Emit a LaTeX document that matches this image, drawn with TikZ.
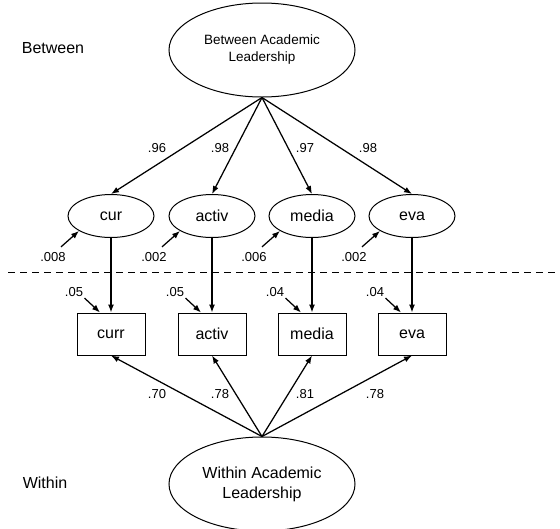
\documentclass[tikz,border=0pt]{standalone}
\usepackage{fontspec}
\setmainfont{Liberation Sans}
\usetikzlibrary{positioning}
\usetikzlibrary{calc}
\usetikzlibrary{arrows.meta}
\usetikzlibrary{shapes.geometric}

\begin{document}
\begin{tikzpicture}[x=1pt, y=-1pt, >={Latex[length=8pt,width=6pt]}, line width=1pt]
    \useasboundingbox (0,0) rectangle (560,528);
    \tikzset{
        latent/.style={draw, ellipse, inner sep=0pt, minimum width=86pt, minimum height=43pt, font=\fontsize{16}{18}\selectfont},
        observed/.style={draw, rectangle, inner sep=0pt, minimum width=68pt, minimum height=42pt, font=\fontsize{16}{18}\selectfont},
        factor/.style={draw, ellipse, inner sep=0pt, minimum width=186pt, minimum height=94pt, align=center},
        coef/.style={font=\fontsize{13}{15}\selectfont, inner sep=1pt},
        level/.style={font=\fontsize{16}{18}\selectfont},
        path/.style={->, line width=1.25pt}
    }

    \node[level] (betweenlab) at (53,48) {Between};
    \node[level] (withinlab) at (45,483) {Within};

    \node[factor, font=\fontsize{13.5}{17}\selectfont] (bal) at (262,50) {Between Academic\\Leadership};
    \node[factor, font=\fontsize{16}{20}\selectfont] (wal) at (262,484) {Within Academic\\Leadership};

    % Level divider
    \coordinate (divl) at (8,272);
    \coordinate (divr) at (560,272);
    \draw[dash pattern=on 7pt off 5pt] (divl) -- (divr);

    \foreach \i/\x/\nb/\nw/\lb/\lw/\lx/\lwx/\eb/\ew in {
        1/111/cur/curr/.96/.70/157/157/.008/.05,
        2/212/activ/activ/.98/.78/220/220/.002/.05,
        3/312/media/media/.97/.81/305/305/.006/.04,
        4/412/eva/eva/.98/.78/368/375/.002/.04} {
        \node[latent] (b\i) at (\x,216) {\nb};
        \node[observed] (w\i) at (\x,334) {\nw};

        % Between paths
        \draw[path] (bal.south) -- (b\i.north);
        \node[coef] (lb\i) at (\lx,148) {\lb};
        \node[coef] (eb\i) at ({\x-58},257) {\eb};
        \draw[path] ($(eb\i.north)+(8,-4)$) -- (b\i.205);
        \draw[path] (b\i) -- (w\i);

        % Within paths
        \draw[path] (wal.north) -- (w\i.south);
        \node[coef] (lw\i) at (\lwx,394) {\lw};
        \node[coef] (ew\i) at ({\x-37},292) {\ew};
        \draw[path] (ew\i.south east) -- ($(w\i.north)+(-11,0)$);
    }
\end{tikzpicture}
\end{document}
